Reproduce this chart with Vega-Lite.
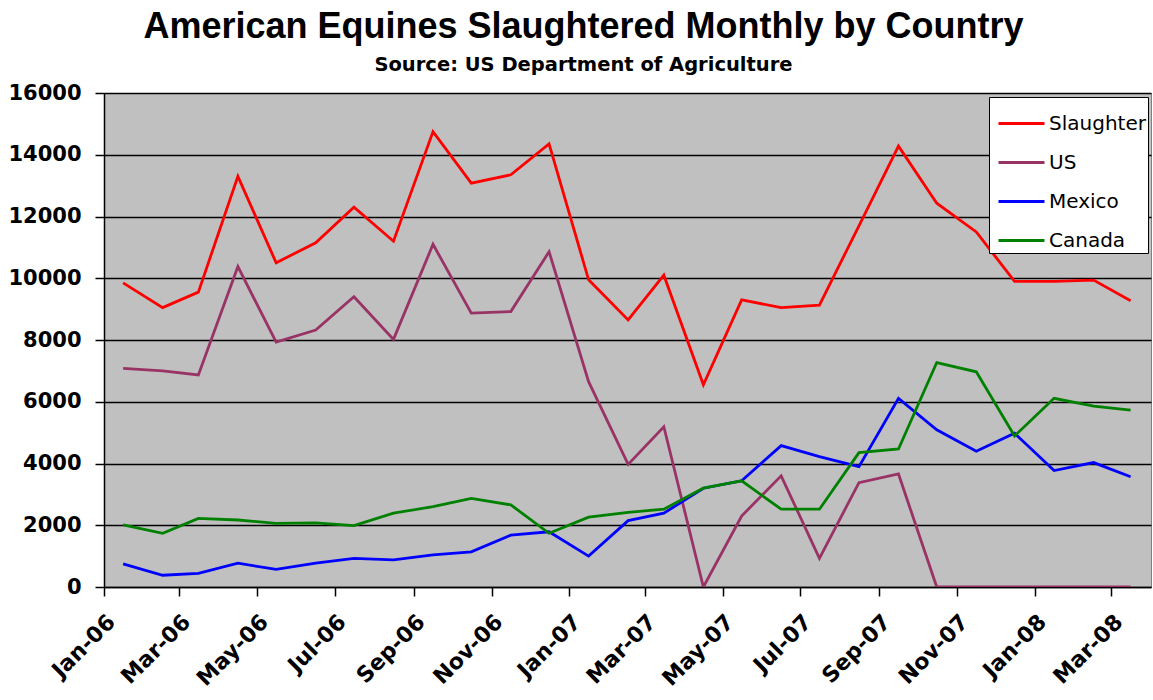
{
  "$schema": "https://vega.github.io/schema/vega-lite/v6.json",
  "width": 1047,
  "height": 494,
  "autosize": {"type": "none"},
  "padding": {"left": 104, "top": 93, "right": 2, "bottom": 113},
  "background": "white",
  "title": {
    "text": "American Equines Slaughtered Monthly by Country",
    "subtitle": "Source: US Department of Agriculture",
    "anchor": "middle",
    "dx": -44,
    "offset": 7,
    "font": "Liberation Sans",
    "fontSize": 36,
    "fontWeight": "bold",
    "color": "black",
    "subtitleFont": "DejaVu Sans",
    "subtitleFontSize": 19.5,
    "subtitleFontWeight": "bold",
    "subtitleColor": "black",
    "subtitlePadding": 10
  },
  "data": {
    "values": [
      {"date": "2006-01-16T00:00:00", "series": "Slaughter", "value": 9850},
      {"date": "2006-02-16T00:00:00", "series": "Slaughter", "value": 9050},
      {"date": "2006-03-16T00:00:00", "series": "Slaughter", "value": 9550},
      {"date": "2006-04-16T00:00:00", "series": "Slaughter", "value": 13300},
      {"date": "2006-05-16T00:00:00", "series": "Slaughter", "value": 10500},
      {"date": "2006-06-16T00:00:00", "series": "Slaughter", "value": 11150},
      {"date": "2006-07-16T00:00:00", "series": "Slaughter", "value": 12300},
      {"date": "2006-08-16T00:00:00", "series": "Slaughter", "value": 11200},
      {"date": "2006-09-16T00:00:00", "series": "Slaughter", "value": 14750},
      {"date": "2006-10-16T00:00:00", "series": "Slaughter", "value": 13080},
      {"date": "2006-11-16T00:00:00", "series": "Slaughter", "value": 13350},
      {"date": "2006-12-16T00:00:00", "series": "Slaughter", "value": 14350},
      {"date": "2007-01-16T00:00:00", "series": "Slaughter", "value": 9950},
      {"date": "2007-02-16T00:00:00", "series": "Slaughter", "value": 8650},
      {"date": "2007-03-16T00:00:00", "series": "Slaughter", "value": 10100},
      {"date": "2007-04-16T00:00:00", "series": "Slaughter", "value": 6550},
      {"date": "2007-05-16T00:00:00", "series": "Slaughter", "value": 9300},
      {"date": "2007-06-16T00:00:00", "series": "Slaughter", "value": 9050},
      {"date": "2007-07-16T00:00:00", "series": "Slaughter", "value": 9130},
      {"date": "2007-08-16T00:00:00", "series": "Slaughter", "value": 11700},
      {"date": "2007-09-16T00:00:00", "series": "Slaughter", "value": 14280},
      {"date": "2007-10-16T00:00:00", "series": "Slaughter", "value": 12430},
      {"date": "2007-11-16T00:00:00", "series": "Slaughter", "value": 11500},
      {"date": "2007-12-16T00:00:00", "series": "Slaughter", "value": 9900},
      {"date": "2008-01-16T00:00:00", "series": "Slaughter", "value": 9900},
      {"date": "2008-02-16T00:00:00", "series": "Slaughter", "value": 9940},
      {"date": "2008-03-16T00:00:00", "series": "Slaughter", "value": 9270},

      {"date": "2006-01-16T00:00:00", "series": "US", "value": 7080},
      {"date": "2006-02-16T00:00:00", "series": "US", "value": 7000},
      {"date": "2006-03-16T00:00:00", "series": "US", "value": 6870},
      {"date": "2006-04-16T00:00:00", "series": "US", "value": 10380},
      {"date": "2006-05-16T00:00:00", "series": "US", "value": 7930},
      {"date": "2006-06-16T00:00:00", "series": "US", "value": 8320},
      {"date": "2006-07-16T00:00:00", "series": "US", "value": 9400},
      {"date": "2006-08-16T00:00:00", "series": "US", "value": 8020},
      {"date": "2006-09-16T00:00:00", "series": "US", "value": 11100},
      {"date": "2006-10-16T00:00:00", "series": "US", "value": 8870},
      {"date": "2006-11-16T00:00:00", "series": "US", "value": 8920},
      {"date": "2006-12-16T00:00:00", "series": "US", "value": 10860},
      {"date": "2007-01-16T00:00:00", "series": "US", "value": 6650},
      {"date": "2007-02-16T00:00:00", "series": "US", "value": 3970},
      {"date": "2007-03-16T00:00:00", "series": "US", "value": 5190},
      {"date": "2007-04-16T00:00:00", "series": "US", "value": 0},
      {"date": "2007-05-16T00:00:00", "series": "US", "value": 2300},
      {"date": "2007-06-16T00:00:00", "series": "US", "value": 3600},
      {"date": "2007-07-16T00:00:00", "series": "US", "value": 930},
      {"date": "2007-08-16T00:00:00", "series": "US", "value": 3380},
      {"date": "2007-09-16T00:00:00", "series": "US", "value": 3660},
      {"date": "2007-10-16T00:00:00", "series": "US", "value": 0},
      {"date": "2007-11-16T00:00:00", "series": "US", "value": 0},
      {"date": "2007-12-16T00:00:00", "series": "US", "value": 0},
      {"date": "2008-01-16T00:00:00", "series": "US", "value": 0},
      {"date": "2008-02-16T00:00:00", "series": "US", "value": 0},
      {"date": "2008-03-16T00:00:00", "series": "US", "value": 0},

      {"date": "2006-01-16T00:00:00", "series": "Mexico", "value": 750},
      {"date": "2006-02-16T00:00:00", "series": "Mexico", "value": 380},
      {"date": "2006-03-16T00:00:00", "series": "Mexico", "value": 440},
      {"date": "2006-04-16T00:00:00", "series": "Mexico", "value": 770},
      {"date": "2006-05-16T00:00:00", "series": "Mexico", "value": 570},
      {"date": "2006-06-16T00:00:00", "series": "Mexico", "value": 770},
      {"date": "2006-07-16T00:00:00", "series": "Mexico", "value": 930},
      {"date": "2006-08-16T00:00:00", "series": "Mexico", "value": 880},
      {"date": "2006-09-16T00:00:00", "series": "Mexico", "value": 1040},
      {"date": "2006-10-16T00:00:00", "series": "Mexico", "value": 1140},
      {"date": "2006-11-16T00:00:00", "series": "Mexico", "value": 1680},
      {"date": "2006-12-16T00:00:00", "series": "Mexico", "value": 1790},
      {"date": "2007-01-16T00:00:00", "series": "Mexico", "value": 1000},
      {"date": "2007-02-16T00:00:00", "series": "Mexico", "value": 2150},
      {"date": "2007-03-16T00:00:00", "series": "Mexico", "value": 2390},
      {"date": "2007-04-16T00:00:00", "series": "Mexico", "value": 3200},
      {"date": "2007-05-16T00:00:00", "series": "Mexico", "value": 3440},
      {"date": "2007-06-16T00:00:00", "series": "Mexico", "value": 4580},
      {"date": "2007-07-16T00:00:00", "series": "Mexico", "value": 4220},
      {"date": "2007-08-16T00:00:00", "series": "Mexico", "value": 3900},
      {"date": "2007-09-16T00:00:00", "series": "Mexico", "value": 6110},
      {"date": "2007-10-16T00:00:00", "series": "Mexico", "value": 5090},
      {"date": "2007-11-16T00:00:00", "series": "Mexico", "value": 4400},
      {"date": "2007-12-16T00:00:00", "series": "Mexico", "value": 4980},
      {"date": "2008-01-16T00:00:00", "series": "Mexico", "value": 3770},
      {"date": "2008-02-16T00:00:00", "series": "Mexico", "value": 4030},
      {"date": "2008-03-16T00:00:00", "series": "Mexico", "value": 3570},

      {"date": "2006-01-16T00:00:00", "series": "Canada", "value": 2010},
      {"date": "2006-02-16T00:00:00", "series": "Canada", "value": 1740},
      {"date": "2006-03-16T00:00:00", "series": "Canada", "value": 2220},
      {"date": "2006-04-16T00:00:00", "series": "Canada", "value": 2170},
      {"date": "2006-05-16T00:00:00", "series": "Canada", "value": 2060},
      {"date": "2006-06-16T00:00:00", "series": "Canada", "value": 2080},
      {"date": "2006-07-16T00:00:00", "series": "Canada", "value": 1990},
      {"date": "2006-08-16T00:00:00", "series": "Canada", "value": 2390},
      {"date": "2006-09-16T00:00:00", "series": "Canada", "value": 2600},
      {"date": "2006-10-16T00:00:00", "series": "Canada", "value": 2870},
      {"date": "2006-11-16T00:00:00", "series": "Canada", "value": 2660},
      {"date": "2006-12-16T00:00:00", "series": "Canada", "value": 1740},
      {"date": "2007-01-16T00:00:00", "series": "Canada", "value": 2260},
      {"date": "2007-02-16T00:00:00", "series": "Canada", "value": 2420},
      {"date": "2007-03-16T00:00:00", "series": "Canada", "value": 2520},
      {"date": "2007-04-16T00:00:00", "series": "Canada", "value": 3200},
      {"date": "2007-05-16T00:00:00", "series": "Canada", "value": 3440},
      {"date": "2007-06-16T00:00:00", "series": "Canada", "value": 2520},
      {"date": "2007-07-16T00:00:00", "series": "Canada", "value": 2520},
      {"date": "2007-08-16T00:00:00", "series": "Canada", "value": 4350},
      {"date": "2007-09-16T00:00:00", "series": "Canada", "value": 4470},
      {"date": "2007-10-16T00:00:00", "series": "Canada", "value": 7270},
      {"date": "2007-11-16T00:00:00", "series": "Canada", "value": 6970},
      {"date": "2007-12-16T00:00:00", "series": "Canada", "value": 4890},
      {"date": "2008-01-16T00:00:00", "series": "Canada", "value": 6110},
      {"date": "2008-02-16T00:00:00", "series": "Canada", "value": 5860},
      {"date": "2008-03-16T00:00:00", "series": "Canada", "value": 5730}
    ]
  },
  "mark": {"type": "line", "strokeWidth": 2.8, "clip": true},
  "encoding": {
    "x": {
      "field": "date",
      "type": "temporal",
      "scale": {
        "domain": [
          {"year": 2006, "month": 1, "date": 1},
          {"year": 2008, "month": 4, "date": 1}
        ]
      },
      "axis": {
        "title": null,
        "grid": false,
        "format": "%b-%y",
        "labelAngle": -45,
        "labelFontSize": 22,
        "values": [
          {"year": 2006, "month": 1, "date": 1},
          {"year": 2006, "month": 3, "date": 1},
          {"year": 2006, "month": 5, "date": 1},
          {"year": 2006, "month": 7, "date": 1},
          {"year": 2006, "month": 9, "date": 1},
          {"year": 2006, "month": 11, "date": 1},
          {"year": 2007, "month": 1, "date": 1},
          {"year": 2007, "month": 3, "date": 1},
          {"year": 2007, "month": 5, "date": 1},
          {"year": 2007, "month": 7, "date": 1},
          {"year": 2007, "month": 9, "date": 1},
          {"year": 2007, "month": 11, "date": 1},
          {"year": 2008, "month": 1, "date": 1},
          {"year": 2008, "month": 3, "date": 1}
        ],
        "tickSize": 9,
        "labelPadding": 15,
        "labelOverlap": false,
        "labelFlush": false
      }
    },
    "y": {
      "field": "value",
      "type": "quantitative",
      "scale": {"domain": [0, 16000], "nice": false},
      "axis": {
        "title": null,
        "values": [0, 2000, 4000, 6000, 8000, 10000, 12000, 14000, 16000],
        "format": "d",
        "grid": true,
        "gridColor": "black",
        "gridWidth": 1.3,
        "gridOpacity": 1,
        "tickSize": 9,
        "labelFontSize": 21,
        "labelPadding": 14
      }
    },
    "color": {
      "field": "series",
      "type": "nominal",
      "scale": {
        "domain": ["Slaughter", "US", "Mexico", "Canada"],
        "range": ["#FF0000", "#993366", "#0000FF", "#008000"]
      },
      "legend": {
        "title": null,
        "orient": "none",
        "legendX": 885,
        "legendY": 4,
        "strokeColor": "black",
        "fillColor": "white",
        "padding": 2,
        "symbolOffset": 6,
        "symbolType": "stroke",
        "symbolStrokeWidth": 3,
        "symbolSize": 2116,
        "labelFont": "DejaVu Sans",
        "labelFontSize": 20,
        "labelColor": "black",
        "labelOffset": 3,
        "rowPadding": 4
      }
    }
  },
  "config": {
    "view": {"fill": "#C0C0C0", "stroke": "#808080", "strokeWidth": 1},
    "axis": {
      "domainColor": "black",
      "domainWidth": 1.5,
      "tickColor": "black",
      "tickWidth": 1.5,
      "labelFont": "DejaVu Sans",
      "labelFontSize": 20,
      "labelFontWeight": "bold",
      "labelColor": "black"
    }
  }
}
